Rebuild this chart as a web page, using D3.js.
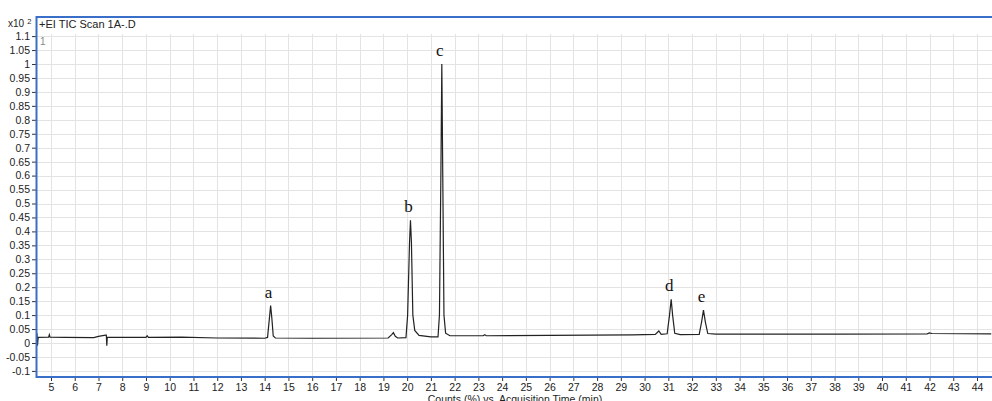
<!doctype html>
<html>
<head>
  <meta charset="utf-8">
  <title>EI TIC Scan 1A-.D</title>
  <style>
    body { margin: 0; background: #fff; }
    svg { display: block; font-family: "Liberation Sans", Arial, sans-serif; }
  </style>
</head>
<body>
  <div id="chart"></div>
  <script src="https://d3js.org/d3.v7.min.js"></script>
  <script>
    // acquisition time (min) and counts (x10^2 %)
    const times = [4.41, 4.43, 4.46, 4.9, 4.93, 4.96, 5.6, 6.8, 7.0, 7.3, 7.33, 7.35, 7.37, 9.0, 9.05, 9.1,
      10.5, 12, 14.0, 14.12, 14.2, 14.25, 14.3, 14.36, 14.45, 16, 19.2, 19.35, 19.42, 19.5, 19.6,
      19.95, 20.02, 20.1, 20.14, 20.18, 20.24, 20.32, 20.5, 21.0, 21.3, 21.36, 21.42, 21.46, 21.5,
      21.55, 21.62, 21.8, 23.2, 23.27, 23.33, 26, 29.5, 30.45, 30.6, 30.7, 30.95, 31.05, 31.12,
      31.18, 31.27, 31.5, 32.3, 32.4, 32.48, 32.56, 32.66, 33, 38, 41.9, 42, 42.1, 44.6];
    const counts = [0.035, -0.01, 0.02, 0.021, 0.03, 0.021, 0.02, 0.019, 0.024, 0.028, 0.028, -0.01, 0.02, 0.02, 0.026, 0.02,
      0.021, 0.018, 0.017, 0.02, 0.09, 0.134, 0.09, 0.025, 0.018, 0.017, 0.018, 0.03, 0.037, 0.024, 0.018,
      0.019, 0.1, 0.36, 0.44, 0.36, 0.1, 0.045, 0.027, 0.022, 0.022, 0.1, 0.6, 1.0, 0.6,
      0.1, 0.035, 0.026, 0.026, 0.03, 0.026, 0.027, 0.029, 0.031, 0.043, 0.031, 0.033, 0.1, 0.157,
      0.1, 0.035, 0.03, 0.031, 0.075, 0.118, 0.075, 0.034, 0.032, 0.032, 0.033, 0.036, 0.034, 0.033];

    const peakNames = ['a', 'b', 'c', 'd', 'e'];
    const peakTimes = [14.25, 20.14, 21.46, 31.12, 32.48];
    const peakHeights = [0.134, 0.44, 1.0, 0.157, 0.118];

    const xTicks = d3.range(5, 45);
    const yTicks = d3.range(-0.1, 1.1001, 0.05).map(v => +v.toFixed(2));

    const W = 992, H = 401;
    const padL = 37, padR = 992, padT = 34, padB = 377;

    const svg = d3.select('#chart').append('svg').attr('width', W).attr('height', H);

    const x = d3.scaleLinear().domain([5, 44]).range([51, 977]);
    const y = d3.scaleLinear().domain([0, 1]).range([343, 64]);

    // grid
    const grid = svg.append('g').attr('stroke', '#e3e3e3').attr('stroke-width', 1);
    grid.selectAll('.gx').data(xTicks).join('line')
      .attr('x1', d => Math.round(x(d)) + 0.5).attr('x2', d => Math.round(x(d)) + 0.5)
      .attr('y1', padT).attr('y2', padB);
    grid.selectAll('.gy').data(yTicks).join('line')
      .attr('x1', padL).attr('x2', padR)
      .attr('y1', d => Math.round(y(d)) + 0.5).attr('y2', d => Math.round(y(d)) + 0.5);

    // y axis
    const yAxis = svg.append('g').attr('transform', `translate(${padL - 1},0)`)
      .call(d3.axisLeft(y).tickValues(yTicks).tickSize(4).tickPadding(2).tickFormat(d => String(d)));
    yAxis.select('.domain').remove();
    yAxis.selectAll('text').attr('font-size', 10.5).attr('fill', '#222').attr('font-family', '"Liberation Sans", Arial, sans-serif');
    yAxis.selectAll('line').attr('stroke', '#333');

    // x axis
    const xAxis = svg.append('g').attr('transform', `translate(0,${padB + 1})`)
      .call(d3.axisBottom(x).tickValues(xTicks).tickSize(3).tickPadding(3).tickFormat(d3.format('d')));
    xAxis.select('.domain').remove();
    xAxis.selectAll('text').attr('font-size', 10.5).attr('fill', '#222').attr('font-family', '"Liberation Sans", Arial, sans-serif');
    xAxis.selectAll('line').attr('stroke', '#333');

    // trace
    const pts = times.map((t, i) => [t, counts[i]]);
    svg.append('path').datum(pts)
      .attr('fill', 'none').attr('stroke', '#222').attr('stroke-width', 1.2)
      .attr('d', d3.line().x(d => x(d[0])).y(d => y(d[1])));

    // peak labels
    svg.selectAll('.peak').data(peakNames).join('text')
      .attr('x', (d, i) => x(peakTimes[i]) - 2)
      .attr('y', (d, i) => y(peakHeights[i]) - 8)
      .attr('text-anchor', 'middle')
      .attr('font-family', '"Liberation Serif", "Times New Roman", serif')
      .attr('font-size', 17).attr('fill', '#111')
      .text(d => d);

    // frame
    const frame = svg.append('g').attr('stroke', '#3a6fc9').attr('stroke-width', 2);
    frame.append('line').attr('x1', padL - 1).attr('x2', padR).attr('y1', 17).attr('y2', 17);
    frame.append('line').attr('x1', padL - 0.5).attr('x2', padL - 0.5).attr('y1', 16).attr('y2', padB + 1);
    frame.append('line').attr('x1', padL - 1).attr('x2', padR).attr('y1', padB).attr('y2', padB);

    // header texts
    svg.append('text').attr('x', 39).attr('y', 28).attr('font-size', 11).attr('fill', '#222')
      .text('+EI TIC Scan 1A-.D');
    const mult = svg.append('text').attr('x', 8).attr('y', 27).attr('font-size', 10).attr('fill', '#222');
    mult.append('tspan').text('x10');
    mult.append('tspan').attr('dx', 3).attr('dy', -3).attr('font-size', 7.5).text('2');
    svg.append('text').attr('x', 40).attr('y', 45).attr('font-size', 10).attr('fill', '#888').text('1');

    // axis title (cut off by the bottom edge, as in the original)
    svg.append('text').attr('x', 515).attr('y', 403).attr('text-anchor', 'middle')
      .attr('font-size', 10.5).attr('fill', '#222')
      .text('Counts (%) vs. Acquisition Time (min)');
  </script>
</body>
</html>
